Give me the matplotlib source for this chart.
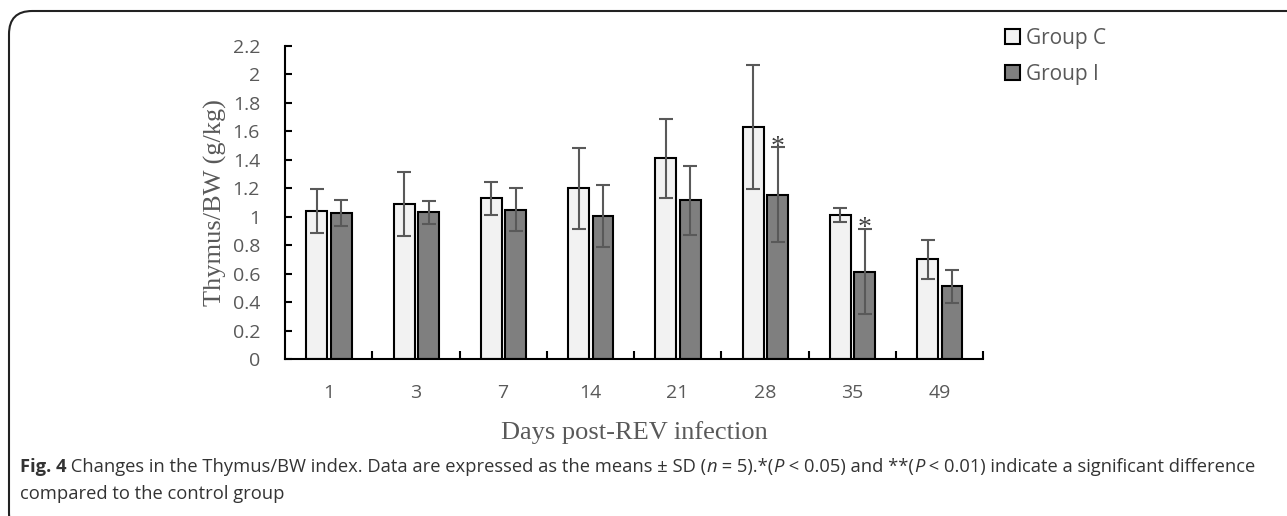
import matplotlib
matplotlib.use("Agg")
import matplotlib.pyplot as plt
import numpy as np
from matplotlib.patches import Patch, FancyBboxPatch

# data
days = ['1', '3', '7', '14', '21', '28', '35', '49']
c_mean = [1.04, 1.09, 1.13, 1.20, 1.41, 1.63, 1.01, 0.70]
c_sd = [0.155, 0.225, 0.115, 0.285, 0.28, 0.435, 0.05, 0.135]
i_mean = [1.025, 1.03, 1.05, 1.005, 1.115, 1.155, 0.615, 0.51]
i_sd = [0.09, 0.08, 0.15, 0.215, 0.24, 0.335, 0.30, 0.115]
i_signif = ['', '', '', '', '', '*', '*', '']

yticks = [0, 0.2, 0.4, 0.6, 0.8, 1, 1.2, 1.4, 1.6, 1.8, 2, 2.2]
ytick_labels = ['0', '0.2', '0.4', '0.6', '0.8', '1', '1.2', '1.4', '1.6', '1.8', '2', '2.2']

gray = '#595959'
W, H = 1287, 516
fig = plt.figure(figsize=(W / 100, H / 100), dpi=100)

ax = fig.add_axes([285 / W, 1 - 359 / H, 698 / W, 313 / H])
x = np.arange(len(days))
bw = 0.24
ax.bar(x - 0.135, c_mean, bw, color='#f2f2f2', edgecolor='black', linewidth=1.5, zorder=2)
ax.bar(x + 0.145, i_mean, bw, color='#7f7f7f', edgecolor='black', linewidth=1.5, zorder=2)
ax.errorbar(x - 0.135, c_mean, yerr=c_sd, fmt='none', ecolor=gray, elinewidth=1.5,
            capsize=5, capthick=1.5, zorder=3)
ax.errorbar(x + 0.145, i_mean, yerr=i_sd, fmt='none', ecolor=gray, elinewidth=1.5,
            capsize=5, capthick=1.5, zorder=3)
for xi, m, s, t in zip(x, i_mean, i_sd, i_signif):
    if t:
        ax.annotate(t, (xi + 0.145, m + s), xytext=(0, -9), textcoords='offset points',
                    ha='center', va='bottom', fontsize=20, color='#404040',
                    family='Liberation Serif')

ax.set_xlim(-0.5, len(days) - 0.5)
ax.set_ylim(0, 2.2)
ax.spines['top'].set_visible(False)
ax.spines['right'].set_visible(False)
for s in ['left', 'bottom']:
    ax.spines[s].set_linewidth(1.5)
ax.set_yticks(yticks)
ax.set_yticklabels(ytick_labels, family='Open Sans', fontsize=14, color=gray)
ax.tick_params(axis='y', direction='in', length=5, width=1.5, pad=18)
ax.set_xticks(x + 0.5, minor=False)
ax.set_xticklabels([])
ax.tick_params(axis='x', direction='in', length=6, width=1.5)
ax.set_xticks(x, minor=True)
ax.set_xticklabels(days, minor=True, family='Open Sans', fontsize=14, color=gray)
ax.tick_params(axis='x', which='minor', length=0, pad=18)

ax.set_ylabel('Thymus/BW (g/kg)', family='Liberation Serif', fontsize=19, color=gray, labelpad=4)
ax.set_xlabel('Days post-REV infection', family='Liberation Serif', fontsize=19, color=gray, labelpad=14)

handles = [Patch(facecolor='#f2f2f2', edgecolor='black', linewidth=1.5, label='Group C'),
           Patch(facecolor='#7f7f7f', edgecolor='black', linewidth=1.5, label='Group I')]
leg = fig.legend(handles=handles, loc='upper left', bbox_to_anchor=(1005 / W, 1 - 28 / H),
                 frameon=False, prop={'family': 'Open Sans', 'size': 15},
                 handlelength=0.7, handleheight=0.7, handletextpad=0.3, labelspacing=0.7,
                 borderpad=0, borderaxespad=0)
for t in leg.get_texts():
    t.set_color(gray)

# rounded frame around the figure
frame = FancyBboxPatch((9 / W, -20 / H), 1320 / W, (H - 11 + 20) / H,
                       boxstyle='round,pad=0,rounding_size=0.018', transform=fig.transFigure,
                       facecolor='none', edgecolor='#222222', linewidth=1.5, mutation_aspect=W / H)
fig.patches.append(frame)

# caption, drawn piece by piece, sized to span the same width as the original
renderer = fig.canvas.get_renderer()
line1 = [('Fig. 4', 'bold', 'normal'),
         (' Changes in the Thymus/BW index. Data are expressed as the means \u00b1 SD (', 'normal', 'normal'),
         ('n', 'normal', 'italic'), (' = 5).*(', 'normal', 'normal'),
         ('P', 'normal', 'italic'), (' < 0.05) and **(', 'normal', 'normal'),
         ('P', 'normal', 'italic'), (' < 0.01) indicate a significant difference', 'normal', 'normal')]
line2 = [('compared to the control group', 'normal', 'normal')]

base = 15
width = 0
for txt, wt, st in line1:
    t = fig.text(0, 0, txt, family='Open Sans', fontsize=base, weight=wt, style=st)
    width += t.get_window_extent(renderer).width
    t.remove()
size = base * 1242 / width

for line, ypix in [(line1, 467), (line2, 494)]:
    xpix = 20
    for txt, wt, st in line:
        t = fig.text(xpix / W, 1 - ypix / H, txt, family='Open Sans', fontsize=size,
                     weight=wt, style=st, color='#333333', va='center', ha='left')
        xpix += t.get_window_extent(renderer).width

fig.savefig('out.png', dpi=100)
